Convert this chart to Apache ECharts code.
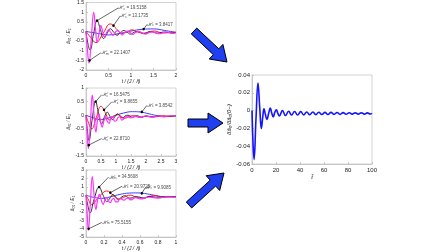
<!DOCTYPE html>
<html><head><meta charset="utf-8">
<script src="https://cdn.jsdelivr.net/npm/echarts@6/dist/echarts.min.js"></script>
<style>html,body{margin:0;padding:0;background:#fff}#c{width:448px;height:252px}</style>
</head><body><div id="c"></div>
<script>
// ---------- Panel 1 (t from 0 to 2) ----------
const p1Magenta = [[0,0],[0.03,-0.9],[0.067,-1.65],[0.12,-0.3],[0.17,0.99],[0.21,0.2],[0.245,-0.55],[0.29,-0.1],[0.33,0.3],[0.37,0.0],[0.41,-0.3],[0.46,-0.05],[0.5,0.08],[0.55,-0.05],[0.6,-0.2],[0.65,-0.05],[0.7,0.04],[0.75,-0.05],[0.8,-0.18],[0.86,-0.05],[0.92,0.02],[0.98,-0.06],[1.04,-0.16],[1.1,-0.06],[1.17,0.0],[1.24,-0.07],[1.32,-0.14],[1.4,-0.06],[1.48,-0.02],[1.56,-0.08],[1.64,-0.12],[1.72,-0.06],[1.8,-0.03],[1.88,-0.08],[1.95,-0.1],[2,-0.07]];
const p1Black = [[0,0],[0.04,-0.6],[0.09,-0.97],[0.17,-0.1],[0.245,0.56],[0.32,0.1],[0.39,-0.37],[0.47,-0.1],[0.54,0.14],[0.62,-0.05],[0.69,-0.2],[0.77,-0.05],[0.84,0.05],[0.92,-0.05],[0.99,-0.14],[1.07,-0.04],[1.14,0.0],[1.22,-0.06],[1.29,-0.1],[1.44,-0.01],[1.59,-0.09],[1.74,-0.03],[1.89,-0.08],[2,-0.05]];
const p1Red = [[0,0],[0.1,-0.3],[0.22,-0.58],[0.38,-0.1],[0.54,0.39],[0.67,0.15],[0.8,-0.12],[0.91,-0.02],[1.02,0.08],[1.15,-0.03],[1.28,-0.1],[1.4,-0.02],[1.52,0.02],[1.64,-0.05],[1.76,-0.08],[1.88,-0.04],[2,-0.05]];
const p1Blue = [[0,0],[0.25,-0.1],[0.5,-0.18],[0.75,-0.1],[1.0,0.02],[1.25,0.11],[1.5,0.13],[1.75,0.05],[2,-0.05]];
const p1Notes = [
  {dot:[0.245,0.56], at:[0.72,1.22], sub:'c', val:'19.5158'},
  {dot:[0.61,0.3],   at:[0.76,0.8],  sub:'c', val:'13.1735'},
  {dot:[1.28,0.12],  at:[1.36,0.37], sub:'c', val:'3.8417'},
  {dot:[0.08,-1.5],  at:[0.33,-1.11],sub:'m', val:'22.1407'}
];
// ---------- Panel 2 (t from 0 to 3) ----------
const p2Magenta = [[0,0],[0.04,-0.7],[0.08,-1.23],[0.15,-0.2],[0.21,0.74],[0.27,0.0],[0.33,-0.62],[0.38,-0.2],[0.43,0.05],[0.48,-0.2],[0.54,-0.44],[0.6,-0.2],[0.65,-0.05],[0.71,-0.22],[0.77,-0.3],[0.83,-0.1],[0.89,-0.05],[0.95,-0.22],[1.01,-0.2],[1.07,-0.08],[1.13,-0.06],[1.19,-0.18],[1.25,-0.14],[1.35,-0.05],[1.5,-0.1],[1.65,-0.04],[1.8,-0.08],[2.0,-0.03],[2.2,-0.07],[2.4,-0.03],[2.6,-0.06],[2.8,-0.02],[3,-0.04]];
const p2Black = [[0,0],[0.05,-0.6],[0.1,-0.93],[0.2,-0.2],[0.32,0.5],[0.42,0.05],[0.52,-0.32],[0.62,-0.05],[0.71,0.11],[0.8,-0.05],[0.88,-0.16],[0.97,-0.05],[1.05,0.05],[1.14,-0.05],[1.22,-0.1],[1.3,-0.03],[1.4,0.0],[1.55,-0.08],[1.7,-0.02],[1.85,-0.07],[2.0,-0.03],[2.2,-0.06],[2.4,-0.03],[2.6,-0.05],[2.8,-0.03],[3,-0.04]];
const p2Red = [[0,0],[0.09,-0.3],[0.19,-0.5],[0.34,-0.1],[0.5,0.33],[0.64,0.1],[0.78,-0.17],[0.92,-0.05],[1.06,0.03],[1.18,-0.05],[1.3,-0.11],[1.45,-0.04],[1.6,-0.02],[1.8,-0.08],[2.0,-0.04],[2.3,-0.06],[2.6,-0.02],[2.8,-0.05],[3,-0.03]];
const p2Blue = [[0,0],[0.2,-0.08],[0.45,-0.16],[0.7,-0.12],[0.95,-0.02],[1.25,0.08],[1.55,0.13],[1.8,0.12],[2.1,0.05],[2.4,-0.02],[2.7,-0.05],[3,-0.02]];
const p2Notes = [
  {dot:[0.32,0.5],   at:[0.52,0.75], sub:'c', val:'16.5475'},
  {dot:[0.6,0.2],    at:[0.86,0.49], sub:'c', val:'9.8655'},
  {dot:[1.86,0.12],  at:[2.03,0.36], sub:'c', val:'3.8542'},
  {dot:[0.09,-1.1],  at:[0.52,-0.86],sub:'c', val:'22.8710'}
];
// ---------- Panel 3 (t from 0 to 1) ----------
const p3Magenta = [[0,0],[0.013,-2.2],[0.026,-4.2],[0.048,-1.0],[0.07,2.2],[0.09,0.0],[0.11,-1.7],[0.13,-0.5],[0.15,0.1],[0.17,-0.6],[0.19,-1.1],[0.21,-0.6],[0.23,-0.3],[0.25,-0.7],[0.27,-0.9],[0.29,-0.5],[0.31,-0.4],[0.33,-0.8],[0.35,-0.8],[0.38,-0.4],[0.42,-0.6],[0.46,-0.35],[0.5,-0.55],[0.55,-0.3],[0.6,-0.45],[0.7,-0.25],[0.8,-0.35],[0.9,-0.2],[1,-0.25]];
const p3Black = [[0,0],[0.02,-1.2],[0.045,-2.1],[0.09,-0.5],[0.145,0.96],[0.19,0.0],[0.23,-0.77],[0.27,-0.3],[0.3,0.08],[0.33,-0.2],[0.36,-0.46],[0.4,-0.2],[0.43,-0.05],[0.47,-0.3],[0.5,-0.35],[0.55,-0.15],[0.6,-0.25],[0.65,-0.35],[0.7,-0.15],[0.8,-0.25],[0.9,-0.15],[1,-0.2]];
const p3Red = [[0,0],[0.03,-0.6],[0.063,-1.15],[0.12,-0.5],[0.17,0.1],[0.23,0.5],[0.3,0.0],[0.36,-0.5],[0.42,-0.25],[0.49,0.0],[0.56,-0.25],[0.63,-0.35],[0.7,-0.15],[0.77,-0.05],[0.84,-0.25],[0.92,-0.2],[1,-0.15]];
const p3Blue = [[0,0],[0.08,-0.25],[0.17,-0.38],[0.27,-0.2],[0.38,0.1],[0.48,0.25],[0.58,0.27],[0.68,0.15],[0.78,-0.05],[0.88,-0.2],[1,-0.2]];
const p3Notes = [
  {dot:[0.145,0.96], at:[0.25,2.15], sub:'m', val:'34.5608'},
  {dot:[0.27,0.3],   at:[0.40,1.06], sub:'c', val:'20.9725'},
  {dot:[0.62,0.22],  at:[0.66,0.91], sub:'c', val:'9.9085'},
  {dot:[0.03,-4.0],  at:[0.175,-3.26],sub:'m', val:'75.5155'}
];
// ---------- Right panel ----------
const rightCurve = [[0,0],[0.8,-0.035],[1.7,-0.055],[3.3,-0.01],[5,0.031],[6.5,0.002],[7.8,-0.020],[8.9,-0.008],[10,0.002],[11.1,-0.004],[12.4,-0.010],[13.9,-0.003],[15.2,0.003],[16.5,-0.003],[17.7,-0.007],[19,-0.002],[20.3,0.001],[21.5,-0.003],[22.8,-0.006],[25.4,0.0],[27.9,-0.0055],[30.5,-0.0008],[33,-0.005],[35.5,-0.001],[38,-0.005],[40.6,-0.0012],[43.1,-0.0048],[45.6,-0.0015],[48.1,-0.0047],[50.7,-0.0016],[53.2,-0.0045],[55.7,-0.0018],[58.2,-0.0044],[60.8,-0.002],[63.3,-0.0043],[65.8,-0.002],[68.3,-0.0042],[70.9,-0.0022],[73.4,-0.0042],[75.9,-0.0023],[78.4,-0.0041],[81,-0.0024],[83.5,-0.004],[86,-0.0025],[88.5,-0.004],[91.1,-0.0025],[93.6,-0.004],[96.1,-0.0026],[98.6,-0.0039],[100,-0.003]];

const FONT = 'Liberation Sans, Arial, sans-serif';
const panels = [
  {x:[0,2,0.5],  y:[-2,1.5,0.5], mag:p1Magenta, blk:p1Black, red:p1Red, blu:p1Blue, notes:p1Notes},
  {x:[0,3,0.5],  y:[-1.5,1,0.5], mag:p2Magenta, blk:p2Black, red:p2Red, blu:p2Blue, notes:p2Notes},
  {x:[0,1,0.2],  y:[-5,3,1],     mag:p3Magenta, blk:p3Black, red:p3Red, blu:p3Blue, notes:p3Notes}
];
const gridBoxes = [
  {left:86, top:2,  width:90, height:68},
  {left:86, top:88, width:90, height:68},
  {left:86, top:170,width:90, height:69},
  {left:252,top:75, width:120,height:89}
];
const grid = gridBoxes.map(g => Object.assign({show:true, borderColor:'#c8c8c8', borderWidth:0.8, backgroundColor:'#fff'}, g));

function mkAxis(idx, rng, fs, name, isY, gap){
  return {
    gridIndex:idx, type:'value', min:rng[0], max:rng[1], interval:rng[2],
    name:name, nameLocation:'middle', nameGap:gap,
    nameTextStyle:{fontSize:fs, color:'#222', fontFamily:FONT, fontStyle:'italic'},
    axisLine:{show:true, onZero:false, lineStyle:{color:'#bdbdbd', width:0.8}},
    axisTick:{show:true, inside:true, length:2, lineStyle:{color:'#bdbdbd', width:0.8}},
    splitLine:{show:false},
    axisLabel:{fontSize:fs, color:'#222', fontFamily:FONT, margin:isY?2:3}
  };
}
const xAxis = [], yAxis = [], series = [];
panels.forEach((p,i)=>{
  xAxis.push(mkAxis(i, p.x, 5, 't / (J / ℏ)', false, 8));
  yAxis.push(mkAxis(i, p.y, 5, 'â₀₁ / E₁', true, 11));
  const add = (data,color,w)=>series.push({type:'line', xAxisIndex:i, yAxisIndex:i, data:data, showSymbol:false, smooth:0.45, lineStyle:{color:color,width:w}, silent:true});
  add(p.blu,'#3c3cff',1);
  add(p.red,'#ff1a1a',1);
  add(p.blk,'#333333',1);
  add(p.mag,'#ff33ff',1.2);
  series.push({type:'scatter', xAxisIndex:i, yAxisIndex:i, silent:true,
    data:p.notes.map(n=>[n.at[0], n.at[1], n.sub, n.val]),
    symbolSize:0,
    label:{show:true, position:'right', distance:0, color:'#111', fontFamily:FONT,
      formatter: q => '{h|ℋ}{s|' + q.value[2] + '}{t| = ' + q.value[3] + '}',
      rich:{h:{fontSize:5, fontStyle:'italic', fontFamily:FONT, color:'#111'}, s:{fontSize:3.5, fontFamily:FONT, color:'#111', padding:[2,0,0,0]}, t:{fontSize:4.5, fontFamily:FONT, color:'#111'}}},
    markLine:{silent:true, symbol:['circle','none'], symbolSize:2.5, animation:false,
      label:{show:false}, lineStyle:{color:'#000', width:0.6, type:'solid'},
      data:p.notes.map(n=>[{coord:n.dot},{coord:n.at}])}
  });
});
xAxis.push(mkAxis(3, [0,100,20], 6, 't̃', false, 9));
yAxis.push(mkAxis(3, [-0.06,0.04,0.02], 6, 'δâ₀/δâ₀(0−)', true, 20));
series.push({type:'line', xAxisIndex:3, yAxisIndex:3, data:rightCurve, showSymbol:false, smooth:0.45, lineStyle:{color:'#1414ff', width:1.6}, silent:true});

// decorative arrows
const arrows = [
  {from:[194,31], to:[227,62]},
  {from:[188,123], to:[223,123]},
  {from:[189,205], to:[224,173]}
];
function arrowPts(a){
  const dx=a.to[0]-a.from[0], dy=a.to[1]-a.from[1], L=Math.hypot(dx,dy);
  const ux=dx/L, uy=dy/L, nx=-uy, ny=ux, w=4, h=10, hl=15;
  const bx=a.to[0]-ux*hl, by=a.to[1]-uy*hl;
  return [[a.from[0]+nx*w,a.from[1]+ny*w],[bx+nx*w,by+ny*w],[bx+nx*h,by+ny*h],[a.to[0],a.to[1]],[bx-nx*h,by-ny*h],[bx-nx*w,by-ny*w],[a.from[0]-nx*w,a.from[1]-ny*w]];
}
const graphic = arrows.map(a=>({type:'polygon', shape:{points:arrowPts(a)}, style:{fill:'#1f3ff0', stroke:'#000', lineWidth:1}, silent:true}));

const chart = echarts.init(document.getElementById('c'), null, {renderer:'canvas'});
chart.setOption({animation:false, backgroundColor:'#fff', grid, xAxis, yAxis, series, graphic});
</script></body></html>
